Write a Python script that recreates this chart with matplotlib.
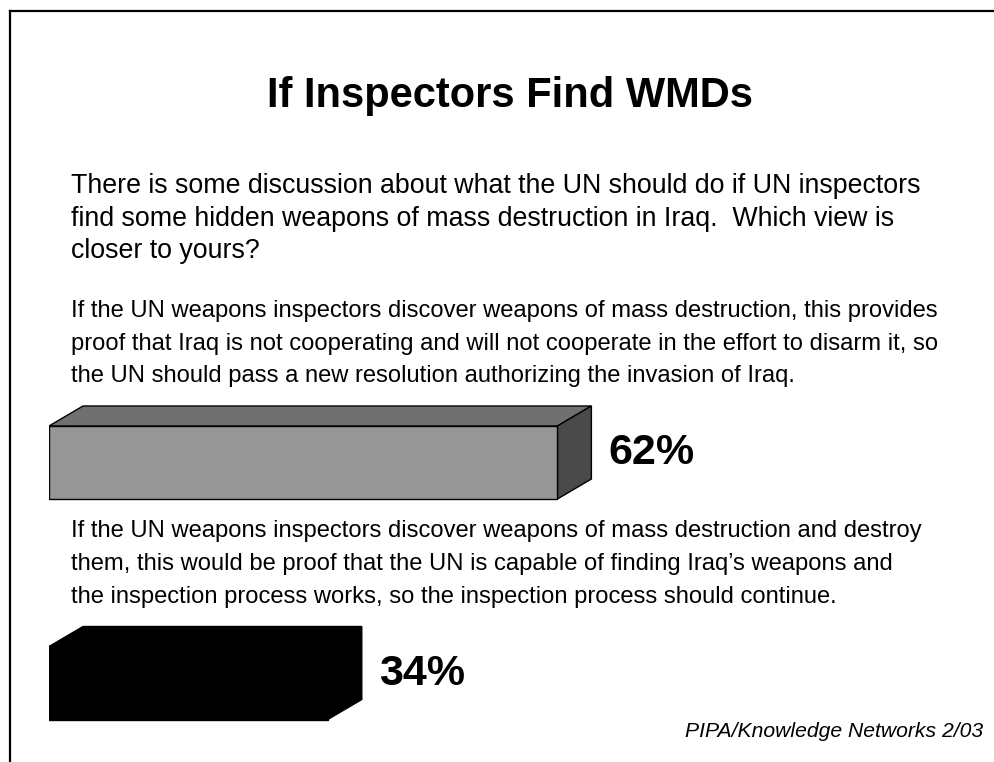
import matplotlib
matplotlib.use("Agg")
import matplotlib.pyplot as plt
from matplotlib.patches import Polygon, Rectangle
from matplotlib.lines import Line2D

# data
answers = ["invade", "continue inspections"]
percents = [62, 34]
labels = ["62%", "34%"]
face_colors = [("#969696", "#707070", "#4a4a4a"), ("#000000", "#000000", "#000000")]

title = "If Inspectors Find WMDs"
question = [
    "There is some discussion about what the UN should do if UN inspectors",
    "find some hidden weapons of mass destruction in Iraq.  Which view is",
    "closer to yours?",
]
option_a = [
    "If the UN weapons inspectors discover weapons of mass destruction, this provides",
    "proof that Iraq is not cooperating and will not cooperate in the effort to disarm it, so",
    "the UN should pass a new resolution authorizing the invasion of Iraq.",
]
option_b = [
    "If the UN weapons inspectors discover weapons of mass destruction and destroy",
    "them, this would be proof that the UN is capable of finding Iraq\u2019s weapons and",
    "the inspection process works, so the inspection process should continue.",
]
source = "PIPA/Knowledge Networks 2/03"

W, H = 995, 762
plt.rcParams["font.family"] = ["Liberation Sans", "DejaVu Sans"]

fig = plt.figure(figsize=(W / 100, H / 100), dpi=100)
fig.patch.set_facecolor("white")


def fx(px):
    return px / W


def fy(py):
    return 1 - py / H


# slide frame (top and left edges only)
fig.add_artist(Line2D([fx(10), 1], [fy(11), fy(11)], color="black", lw=1.6,
                      transform=fig.transFigure))
fig.add_artist(Line2D([fx(10), fx(10)], [fy(11), 0], color="black", lw=1.6,
                      transform=fig.transFigure))

fig.text(fx(510), fy(107), title, ha="center", va="baseline",
         fontsize=30, fontweight="bold")


def block(lines, x, y0, step, size):
    for i, line in enumerate(lines):
        fig.text(fx(x), fy(y0 + i * step), line, ha="left", va="baseline",
                 fontsize=size)


block(question, 71, 193, 32.7, 19.3)
block(option_a, 71, 317, 32.5, 17.1)
block(option_b, 71, 537, 32.8, 17.1)

fig.text(fx(983), fy(737), source, ha="right", va="baseline",
         fontsize=15.2, style="italic")

# bar axes: 0% at x=49px, 8.2 px per percent
px_per_pct = 8.2
ax = fig.add_axes([fx(49), 0, 100 * px_per_pct / W, 382 / H])
ax.set_xlim(0, 100)
row_px = 220.5
ax.set_ylim(1 + (762 - 683) / row_px, -(462.5 - 380) / row_px)
ax.axis("off")

half_h = 36.5 / row_px
depth_x = 34 / px_per_pct
depth_y = 20 / row_px

for i, (val, lab, cols) in enumerate(zip(percents, labels, face_colors)):
    front, top, side = cols
    y_top = i - half_h
    y_bot = i + half_h
    ax.add_patch(Polygon([(0, y_top), (depth_x, y_top - depth_y),
                          (val + depth_x, y_top - depth_y), (val, y_top)],
                         closed=True, facecolor=top, edgecolor="black", lw=1))
    ax.add_patch(Polygon([(val, y_top), (val + depth_x, y_top - depth_y),
                          (val + depth_x, y_bot - depth_y), (val, y_bot)],
                         closed=True, facecolor=side, edgecolor="black", lw=1))
    ax.add_patch(Rectangle((0, y_top), val, 2 * half_h, facecolor=front,
                           edgecolor="black", lw=1))
    ax.text(val + depth_x + 2.1, i + 0.008, lab, ha="left", va="baseline",
            fontsize=31, fontweight="bold")

fig.savefig("out.png", dpi=100)
